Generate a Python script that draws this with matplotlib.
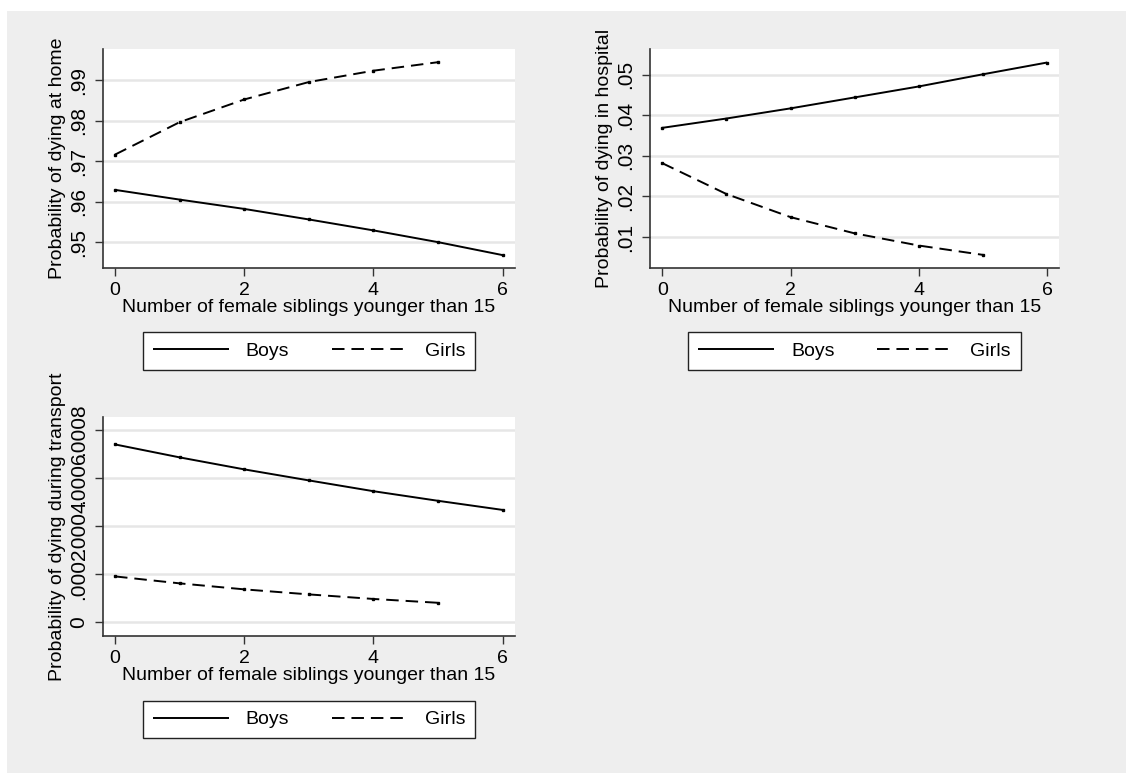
import matplotlib
matplotlib.use("Agg")
import matplotlib.pyplot as plt
from matplotlib.patches import Rectangle

plt.rcParams['font.family'] = ['Liberation Sans', 'DejaVu Sans']
plt.rcParams['lines.scale_dashes'] = False

# Number of female siblings younger than 15
boys_x = [0, 1, 2, 3, 4, 5, 6]
girls_x = [0, 1, 2, 3, 4, 5]

# Predicted probabilities by place of death
home_boys = [0.9629, 0.9605, 0.9582, 0.9556, 0.9529, 0.9500, 0.9468]
home_girls = [0.9716, 0.9796, 0.9852, 0.9895, 0.9923, 0.9944]

hosp_boys = [0.0369, 0.0392, 0.0417, 0.0444, 0.0471, 0.0501, 0.0530]
hosp_girls = [0.0282, 0.0206, 0.0149, 0.0109, 0.0079, 0.0056]

trans_boys = [0.000740, 0.000686, 0.000636, 0.000590, 0.000545, 0.000505, 0.000467]
trans_girls = [0.000190, 0.000161, 0.000136, 0.000115, 0.000096, 0.000080]

home_ticks = [0.95, 0.96, 0.97, 0.98, 0.99]
home_labels = ['.95', '.96', '.97', '.98', '.99']
hosp_ticks = [0.01, 0.02, 0.03, 0.04, 0.05]
hosp_labels = ['.01', '.02', '.03', '.04', '.05']
trans_ticks = [0, 0.0002, 0.0004, 0.0006, 0.0008]
trans_labels = ['0', '.0002', '.0004', '.0006', '.0008']
x_ticks = [0, 2, 4, 6]

xlabel = 'Number of female siblings younger than 15'
series_names = ['Boys', 'Girls']

W, H = 1126, 773
FS = 14
fig = plt.figure(figsize=(W / 100, H / 100), dpi=100, facecolor='white')

# Stata-style light grey graph region
fig.patches.append(Rectangle((7 / W, 0), 1 - 7 / W, 1 - 11 / H,
                             transform=fig.transFigure, facecolor='#eeeeee',
                             edgecolor='none', zorder=-10))


def px_axes(left, top, right, bottom):
    return fig.add_axes([left / W, 1 - bottom / H, (right - left) / W, (bottom - top) / H])


def draw_panel(ax, by, gy, ticks, labels, ylim, ylabel, legend_box):
    ax.set_facecolor('white')
    ax.plot(boys_x, by, color='black', lw=1.4, solid_capstyle='butt')
    ax.plot(girls_x, gy, color='black', lw=1.4, dashes=(9, 5), dash_capstyle='butt')
    ax.plot(boys_x, by, ls='none', marker='s', ms=1.6, color='black')
    ax.plot(girls_x, gy, ls='none', marker='s', ms=1.6, color='black')
    ax.set_xlim(-0.186, 6.19)
    ax.set_ylim(*ylim)
    ax.set_xticks(x_ticks)
    ax.set_yticks(ticks)
    ax.set_yticklabels(labels, rotation=90, va='center', fontsize=15)
    ax.tick_params(axis='x', labelsize=FS)
    ax.tick_params(axis='both', length=6, width=1, color='#333333', direction='out')
    ax.tick_params(axis='y', pad=5)
    ax.tick_params(axis='x', pad=4)
    ax.grid(axis='y', color='#e6e6e6', lw=1.8)
    ax.set_axisbelow(True)
    for s in ('top', 'right'):
        ax.spines[s].set_visible(False)
    for s in ('left', 'bottom'):
        ax.spines[s].set_color('#333333')
        ax.spines[s].set_linewidth(1.2)
    ax.set_xlabel(xlabel, fontsize=FS, labelpad=0)
    ax.set_ylabel(ylabel, fontsize=FS, labelpad=2)
    l0, t0, r0, b0 = legend_box
    leg = fig.legend(ax.lines[:2], series_names, loc='center', ncol=2,
                     bbox_to_anchor=(l0 / W, 1 - b0 / H, (r0 - l0) / W, (b0 - t0) / H),
                     fontsize=FS, frameon=True, fancybox=False, handlelength=3.9,
                     handletextpad=0.87, columnspacing=2.2, borderpad=0.52,
                     borderaxespad=0)
    frame = leg.get_frame()
    frame.set_edgecolor('#222222')
    frame.set_linewidth(1.0)
    frame.set_facecolor('white')
    frame.set_alpha(1)


ax1 = px_axes(103, 49, 515, 267.7)
draw_panel(ax1, home_boys, home_girls, home_ticks, home_labels, (0.9437, 0.99765),
           'Probability of dying at home', (146, 332, 472, 370))

ax2 = px_axes(650.3, 49, 1059.3, 267.7)
draw_panel(ax2, hosp_boys, hosp_girls, hosp_ticks, hosp_labels, (0.00244, 0.05633),
           'Probability of dying in hospital', (693, 332, 1016, 370))

ax3 = px_axes(103, 417.3, 515, 635.7)
draw_panel(ax3, trans_boys, trans_girls, trans_ticks, trans_labels, (-0.0000571, 0.000853),
           'Probability of dying during transport', (146, 701, 472, 738))

fig.savefig('out.png', dpi=100, facecolor=fig.get_facecolor())
